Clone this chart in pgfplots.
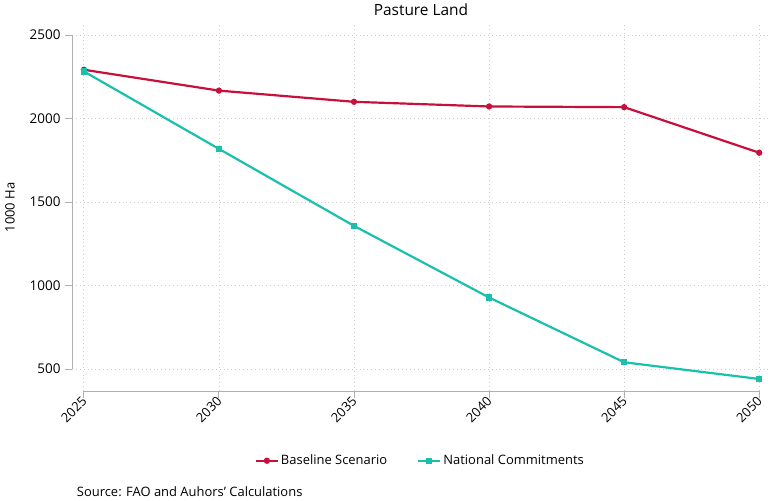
\documentclass[border=0pt]{standalone}
\usepackage{pgfplots}
\pgfplotsset{compat=1.18}
\usepackage{fontspec}
\setmainfont{Open Sans}
\definecolor{cred}{RGB}{200,16,60}
\definecolor{cteal}{RGB}{26,192,172}
\definecolor{axgray}{RGB}{175,175,175}
\begin{document}
\begin{tikzpicture}[x=1bp,y=1bp]
\begin{axis}[
  name=ax,
  scale only axis,
  width=698bp, height=367bp,
  xmin=2024.56, xmax=2050.4,
  ymin=368, ymax=2566,
  clip=false,
  axis line style={draw=none},
  xtick={2025,2030,2035,2040,2045,2050},
  ytick={500,1000,1500,2000,2500},
  xtick pos=bottom, ytick pos=left,
  tick align=outside,
  major tick length=7bp,
  tick style={axgray, line width=0.9pt},
  grid=major,
  grid style={dash pattern=on 0.9pt off 3pt, gray!40, line width=0.8pt},
  /pgf/number format/assume math mode=true,
  xticklabel style={rotate=45, anchor=east, font=\fontsize{13}{15}\selectfont, xshift=3bp, yshift=-1bp},
  yticklabel style={font=\fontsize{13.5}{15}\selectfont, xshift=-1bp},
  scaled ticks=false,
  x tick label style={/pgf/number format/.cd, 1000 sep={}},
  y tick label style={/pgf/number format/.cd, 1000 sep={}},
  legend style={at={(0.499,-0.19)}, anchor=center, draw=none, legend columns=2,
    font=\fontsize{13}{15}\selectfont, /tikz/every even column/.append style={column sep=28bp}},
  legend image code/.code={\draw[#1] (0bp,0bp) -- (22bp,0bp); \draw[#1, mark repeat=1] plot coordinates {(11bp,0bp)};},
]
\draw[axgray, line width=0.9pt] (axis cs:2025,368) -- (axis cs:2050,368);
\draw[axgray, line width=0.9pt] (axis cs:2024.56,500) -- (axis cs:2024.56,2500);
\addplot[cred, line width=2.2pt, mark=*, mark size=2pt] coordinates {
(2025,2292) (2030,2167) (2035,2100) (2040,2072) (2045,2068) (2050,1795)};
\addlegendentry{Baseline Scenario}
\addplot[cteal, line width=2.2pt, mark=square*, mark size=2pt] coordinates {
(2025,2282) (2030,1818) (2035,1357) (2040,928) (2045,540) (2050,440)};
\addlegendentry{National Commitments}
\node[anchor=base, font=\fontsize{15.5}{17}\selectfont] at (rel axis cs:0.5,1.022) {Pasture Land};
\node[rotate=90, font=\fontsize{13}{15}\selectfont] at (rel axis cs:-0.0888,0.5) {1000 Ha};
\node[anchor=west, font=\fontsize{13}{15}\selectfont] at (rel axis cs:0.002,-0.275) {Source: FAO and Auhors' Calculations};
\end{axis}
\path[use as bounding box] ([xshift=-72bp,yshift=-110bp]ax.south west) rectangle ([xshift=703bp,yshift=391bp]ax.south west);
\end{tikzpicture}
\end{document}
